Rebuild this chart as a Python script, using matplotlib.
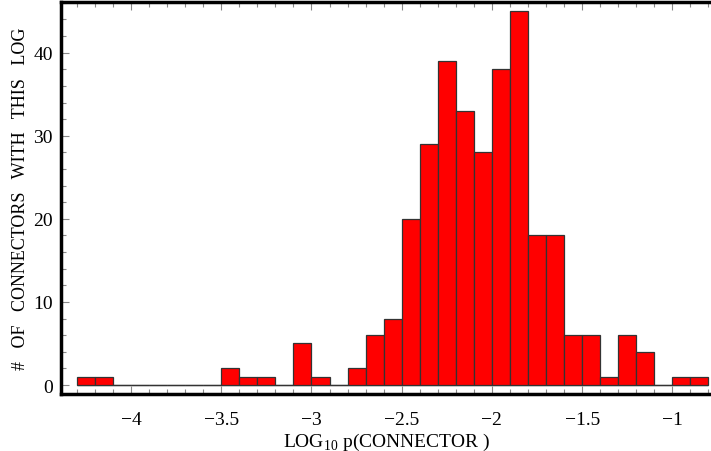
import matplotlib.pyplot as plt
import numpy as np
from matplotlib.ticker import MultipleLocator

plt.rcParams['font.family'] = ['Liberation Serif', 'DejaVu Serif']
plt.rcParams['mathtext.fontset'] = 'custom'
plt.rcParams['mathtext.rm'] = 'Liberation Serif'

# bin edges (log10 p, step 0.1) and counts per bin
bin_lo = -4.3
bin_w = 0.1
counts = [1, 1, 0, 0, 0, 0, 0, 0, 2, 1, 1, 0, 5, 1, 0, 2, 6, 8, 20, 29,
          39, 33, 28, 38, 45, 18, 18, 6, 6, 1, 6, 4, 0, 1, 1]
xticks = [-4, -3.5, -3, -2.5, -2, -1.5, -1]
xticklabels = ['\u22124', '\u22123.5', '\u22123', '\u22122.5', '\u22122', '\u22121.5', '\u22121']
yticks = [0, 10, 20, 30, 40]

edges = bin_lo + bin_w * np.arange(len(counts) + 1)

fig = plt.figure(figsize=(7.11, 4.52), dpi=100)
ax = fig.add_axes([61 / 711, 57 / 452, 652 / 711, 392 / 452])

ax.hlines(0, edges[0], edges[-1], color='#555555', lw=1, zorder=1)
ax.bar(edges[:-1], counts, width=bin_w, align='edge', color='#ff0000',
       edgecolor='#333333', linewidth=0.9, zorder=2)

ax.set_xlim(-4.388, -0.775)
ax.set_ylim(-1.08, 46.1)

ax.set_xticks(xticks)
ax.set_xticklabels(xticklabels)
ax.set_yticks(yticks)
ax.xaxis.set_minor_locator(MultipleLocator(0.1))
ax.yaxis.set_minor_locator(MultipleLocator(2))
ax.tick_params(which='both', direction='in', top=True, right=False,
               color='#888888', width=0.8, labelsize=14)
ax.tick_params(which='major', length=6)
ax.tick_params(which='minor', length=3.5)
ax.tick_params(axis='x', pad=12)
ax.tick_params(axis='y', pad=6)

for sp in ax.spines.values():
    sp.set_linewidth(2.5)
    sp.set_color('black')

ax.set_xlabel('LOG$_{10}$ p(CONNECTOR )', fontsize=14, labelpad=2)
ax.set_ylabel('#   OF   CONNECTORS   WITH   THIS   LOG', fontsize=13, labelpad=3)

fig.savefig('out.png', dpi=100)
